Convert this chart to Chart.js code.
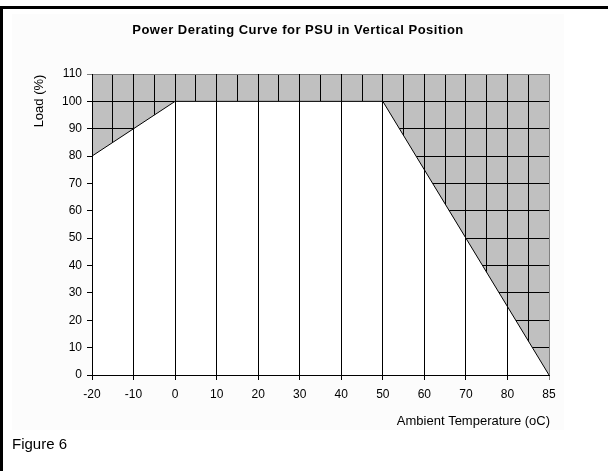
<!DOCTYPE html>
<html>
<head>
<meta charset="utf-8">
<script src="https://cdn.jsdelivr.net/npm/chart.js@4/dist/chart.umd.min.js"></script>
<style>
  html, body { margin: 0; padding: 0; background: #fff; }
  #wrap { width: 608px; height: 471px; }
</style>
</head>
<body>
<div id="wrap"><canvas id="chartDerating" width="608" height="471"></canvas></div>
<script>
// categories on the x axis (ambient temperature, oC)
var temperatures = ['-20', '-10', '0', '10', '20', '30', '40', '50', '60', '70', '80', '85'];
// load in % at each temperature
var loads = [80, 90, 100, 100, 100, 100, 100, 100, 75, 50, 25, 0];

var titleText = 'Power Derating Curve for PSU in Vertical Position';
var xTitle = 'Ambient Temperature (oC)';
var yTitle = 'Load (%)';
var figureText = 'Figure 6';

var fontFamily = '"Liberation Sans", Arial, sans-serif';

// grey plot background, frame and all the texts
var decor = {
    id: 'decor',
    beforeDraw: function (chart) {
        var ctx = chart.ctx;
        var a = chart.chartArea;
        ctx.save();
        ctx.fillStyle = '#fcfcfc';
        ctx.fillRect(12, 14, 552, 416);
        ctx.fillStyle = '#c0c0c0';
        ctx.fillRect(a.left, a.top, a.right - a.left, a.bottom - a.top);
        ctx.restore();
    },
    afterDraw: function (chart) {
        var ctx = chart.ctx;
        var a = chart.chartArea;
        ctx.save();
        ctx.fillStyle = '#000';
        ctx.textBaseline = 'middle';

        ctx.font = 'bold 13px ' + fontFamily;
        ctx.letterSpacing = '0.5px';
        ctx.textAlign = 'center';
        ctx.fillText(titleText, 298, 30);
        ctx.letterSpacing = '0px';

        ctx.font = '13px ' + fontFamily;
        ctx.textAlign = 'right';
        ctx.fillText(xTitle, a.right + 1, 421);

        ctx.save();
        ctx.translate(39, 101);
        ctx.rotate(-Math.PI / 2);
        ctx.textAlign = 'center';
        ctx.fillText(yTitle, 0, 0);
        ctx.restore();

        ctx.font = '15px ' + fontFamily;
        ctx.textAlign = 'left';
        ctx.fillText(figureText, 12, 445);

        // outer frame (top and left)
        ctx.fillRect(0, 6, 608, 3);
        ctx.fillRect(0, 6, 3, 465);
        ctx.restore();
    }
};

var ctx = document.getElementById('chartDerating').getContext('2d');
var chart = new Chart(ctx, {
    type: 'line',
    data: {
        labels: temperatures,
        datasets: [{
            label: 'Load',
            data: loads,
            borderColor: '#000',
            borderWidth: 1,
            backgroundColor: '#ffffff',
            fill: 'origin',
            tension: 0,
            pointRadius: 0
        }]
    },
    options: {
        responsive: false,
        animation: false,
        events: [],
        layout: {
            padding: { top: 74, right: 59, bottom: 0, left: 0 }
        },
        plugins: {
            legend: { display: false },
            title: { display: false },
            tooltip: { enabled: false }
        },
        scales: {
            x: {
                type: 'category',
                offset: false,
                // category lines are drawn over the white area (drop lines)
                grid: {
                    offset: false,
                    z: 1,
                    color: function (c) {
                        return c.index === temperatures.length - 1 ? '#808080' : '#000';
                    },
                    tickLength: 5
                },
                border: { color: '#000', width: 1, z: 1 },
                ticks: {
                    color: '#000',
                    padding: 7,
                    maxRotation: 0,
                    autoSkip: false,
                    font: { family: fontFamily, size: 12 }
                },
                afterFit: function (scale) { scale.height = 96; }
            },
            xg: {
                type: 'linear',
                position: 'top',
                min: 0,
                max: temperatures.length - 1,
                grid: {
                    drawTicks: false,
                    color: function (c) {
                        return c.tick && c.tick.value === temperatures.length - 1 ? '#808080' : '#000';
                    }
                },
                border: { display: false },
                ticks: { display: false, stepSize: 0.5, maxTicksLimit: 40 },
                afterFit: function (scale) { scale.height = 0; }
            },
            y: {
                min: 0,
                max: 110,
                grid: {
                    tickLength: 5,
                    color: function (c) {
                        return c.tick && c.tick.value === 110 ? '#808080' : '#000';
                    }
                },
                border: { color: '#000', width: 1, z: 1 },
                ticks: {
                    stepSize: 10,
                    color: '#000',
                    padding: 5,
                    font: { family: fontFamily, size: 12 }
                },
                afterFit: function (scale) { scale.width = 92; }
            }
        }
    },
    plugins: [decor]
});
</script>
</body>
</html>
